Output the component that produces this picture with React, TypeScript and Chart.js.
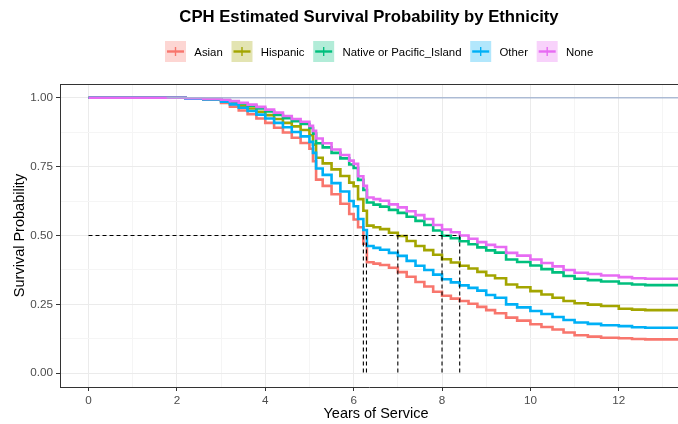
import React, { useEffect, useRef } from "react";
import { Chart, registerables } from "chart.js";

Chart.register(...registerables);

const titleText = "CPH Estimated Survival Probability by Ethnicity";
const xTitle = "Years of Service";
const yTitle = "Survival Probability";

const groups = ["Asian", "Hispanic", "Native or Pacific_Island", "Other", "None"];
const colors = ["#F8766D", "#A3A500", "#00BF7D", "#00B0F6", "#E76BF3"];

const times = [0, 1.8, 2.2, 2.6, 3.0, 3.2, 3.4, 3.6, 3.8, 4.0, 4.2, 4.4, 4.6, 4.8, 5.0, 5.08, 5.15, 5.3, 5.5, 5.7, 5.9, 6.0, 6.1, 6.22, 6.3, 6.45, 6.6, 6.8, 7.0, 7.2, 7.4, 7.6, 7.8, 8.0, 8.2, 8.4, 8.6, 8.8, 9.0, 9.2, 9.45, 9.7, 10.0, 10.25, 10.5, 10.75, 11.0, 11.3, 11.6, 12.0, 12.3, 12.6, 13.5];

const asian = [1, 1, .997, .993, .981, .968, .954, .94, .925, .909, .891, .874, .855, .836, .815, .77, .703, .68, .65, .615, .578, .558, .53, .47, .403, .398, .393, .383, .367, .35, .331, .315, .296, .281, .271, .262, .252, .241, .229, .218, .202, .191, .178, .168, .159, .148, .138, .133, .129, .127, .124, .123, .123];
const hispanic = [1, 1, .998, .995, .989, .981, .971, .961, .949, .937, .923, .909, .896, .883, .864, .83, .782, .762, .74, .716, .692, .679, .632, .59, .536, .53, .523, .51, .498, .48, .462, .447, .43, .414, .402, .39, .38, .368, .355, .345, .322, .312, .298, .286, .274, .262, .254, .249, .244, .234, .231, .229, .229];
const nativePI = [1, 1, .998, .995, .991, .986, .979, .971, .961, .95, .938, .926, .915, .905, .89, .87, .835, .82, .8, .78, .758, .745, .702, .665, .62, .612, .605, .593, .582, .568, .553, .538, .518, .499, .49, .479, .468, .457, .446, .438, .413, .404, .391, .378, .366, .353, .343, .338, .333, .326, .322, .32, .32];
const other = [1, 1, .997, .994, .986, .976, .964, .952, .939, .925, .909, .893, .876, .86, .84, .8, .743, .72, .69, .66, .625, .606, .56, .52, .462, .455, .448, .437, .426, .408, .39, .375, .358, .341, .33, .319, .31, .3, .284, .274, .25, .239, .226, .215, .204, .193, .184, .179, .174, .171, .167, .165, .165];
const none = [1, 1, .998, .996, .993, .988, .982, .975, .967, .957, .946, .934, .923, .913, .898, .88, .852, .835, .812, .792, .772, .76, .715, .68, .638, .632, .626, .613, .602, .588, .574, .56, .538, .522, .512, .5, .488, .476, .466, .458, .437, .427, .413, .4, .388, .375, .365, .36, .355, .349, .345, .343, .343];

const seriesValues = [asian, hispanic, nativePI, other, none];

const medians = [6.22, 6.29, 7.0, 8.0, 8.4];
const medianLevel = 0.5;

const refLineX = [1.77, 13.5];
const refLineY = 1;

const xTickValues = [0, 1, 2, 3, 4, 5, 6, 7, 8, 9, 10, 11, 12, 13];
const yTickValues = [0, 0.125, 0.25, 0.375, 0.5, 0.625, 0.75, 0.875, 1];

const FONT = "'Liberation Sans', Arial, Helvetica, sans-serif";

const isMajorX = (v: number) => Math.abs(v % 2) < 1e-9;
const isMajorY = (v: number) => Math.abs(v * 4 - Math.round(v * 4)) < 1e-9;

function hexAlpha(hex: string, a: number) {
  const r = parseInt(hex.slice(1, 3), 16);
  const g = parseInt(hex.slice(3, 5), 16);
  const b = parseInt(hex.slice(5, 7), 16);
  return `rgba(${r},${g},${b},${a})`;
}

const decorPlugin = {
  id: "decor",
  afterDraw(chart: any) {
    const { ctx, chartArea: a } = chart;
    ctx.save();
    // top panel border
    ctx.strokeStyle = "#333333";
    ctx.lineWidth = 1;
    ctx.beginPath();
    ctx.moveTo(a.left, a.top + 0.5);
    ctx.lineTo(a.right, a.top + 0.5);
    ctx.stroke();

    // title
    ctx.fillStyle = "#000";
    ctx.font = `bold 16.7px ${FONT}`;
    ctx.textAlign = "center";
    ctx.textBaseline = "alphabetic";
    ctx.fillText(titleText, 369, 22);

    // legend
    ctx.font = `11.4px ${FONT}`;
    ctx.textAlign = "left";
    let x = 165;
    const boxTop = 41;
    const box = 21;
    groups.forEach((g, i) => {
      ctx.fillStyle = hexAlpha(colors[i], 0.3);
      ctx.fillRect(x, boxTop, box, box);
      ctx.strokeStyle = colors[i];
      ctx.lineWidth = 2.4;
      ctx.beginPath();
      ctx.moveTo(x + 2, boxTop + box / 2);
      ctx.lineTo(x + box - 2, boxTop + box / 2);
      ctx.stroke();
      ctx.lineWidth = 1.4;
      ctx.beginPath();
      ctx.moveTo(x + box / 2, boxTop + box / 2 - 4.5);
      ctx.lineTo(x + box / 2, boxTop + box / 2 + 4.5);
      ctx.stroke();
      ctx.fillStyle = "#000";
      const tx = x + 29.3;
      ctx.fillText(g, tx, 56.3);
      x = tx + ctx.measureText(g).width + 8.7;
    });

    // axis titles
    ctx.font = `14.5px ${FONT}`;
    ctx.fillStyle = "#000";
    ctx.textAlign = "center";
    ctx.fillText(xTitle, 376, 418);
    ctx.save();
    ctx.translate(19.5, (a.top + a.bottom) / 2);
    ctx.rotate(-Math.PI / 2);
    ctx.textBaseline = "middle";
    ctx.fillText(yTitle, 0, 0);
    ctx.restore();

    ctx.restore();
  },
};

export default function App() {
  const ref = useRef<HTMLCanvasElement>(null);

  useEffect(() => {
    const datasets: any[] = [];

    // reference line at 1.0
    datasets.push({
      data: refLineX.map((x) => ({ x, y: refLineY })),
      borderColor: "rgba(165,182,210,0.9)",
      borderWidth: 1.5,
      pointRadius: 0,
      order: -1,
    });

    // median dashed lines
    datasets.push({
      data: [
        { x: 0, y: medianLevel },
        { x: Math.max(...medians), y: medianLevel },
      ],
      borderColor: "#000",
      borderWidth: 1.1,
      borderDash: [4, 3],
      pointRadius: 0,
      order: 0,
    });
    medians.forEach((m) => {
      datasets.push({
        data: [
          { x: m, y: medianLevel },
          { x: m, y: 0 },
        ],
        borderColor: "#000",
        borderWidth: 1.1,
        borderDash: [4, 3],
        pointRadius: 0,
        order: 0,
      });
    });

    groups.forEach((g, i) => {
      datasets.push({
        label: g,
        data: times.map((t, k) => ({ x: t, y: seriesValues[i][k] })),
        borderColor: colors[i],
        borderWidth: 2.6,
        pointRadius: 0,
        stepped: true,
        order: groups.length - i,
      });
    });

    const chart = new Chart(ref.current!, {
      type: "line",
      data: { datasets },
      options: {
        animation: false,
        responsive: false,
        events: [],
        layout: { padding: { top: 84, left: 0, right: 0, bottom: 0 } },
        plugins: {
          legend: { display: false },
          title: { display: false },
          tooltip: { enabled: false },
        },
        scales: {
          x: {
            type: "linear",
            min: -0.645,
            max: 13.34,
            afterBuildTicks: (scale: any) => {
              scale.ticks = xTickValues.map((v) => ({ value: v }));
            },
            afterFit: (scale: any) => {
              scale.height = 37;
            },
            grid: {
              color: (c: any) => (c.tick && isMajorX(c.tick.value) ? "#EBEBEB" : "#F5F5F5"),
              tickColor: (c: any) => (c.tick && isMajorX(c.tick.value) ? "#333333" : "rgba(0,0,0,0)"),
              tickLength: 4,
              lineWidth: 1,
            },
            border: { display: true, color: "#333333", width: 1 },
            ticks: {
              autoSkip: false,
              maxRotation: 0,
              padding: 3,
              color: "#4D4D4D",
              font: { family: FONT, size: 11.7 },
              callback: (v: any) => (isMajorX(Number(v)) ? String(v) : ""),
            },
          },
          y: {
            type: "linear",
            min: -0.05,
            max: 1.05,
            afterBuildTicks: (scale: any) => {
              scale.ticks = yTickValues.map((v) => ({ value: v }));
            },
            afterFit: (scale: any) => {
              scale.width = 60;
            },
            grid: {
              color: (c: any) => (c.tick && isMajorY(c.tick.value) ? "#EBEBEB" : "#F5F5F5"),
              tickColor: (c: any) => (c.tick && isMajorY(c.tick.value) ? "#333333" : "rgba(0,0,0,0)"),
              tickLength: 4,
              lineWidth: 1,
            },
            border: { display: true, color: "#333333", width: 1 },
            ticks: {
              autoSkip: false,
              padding: 3,
              color: "#4D4D4D",
              font: { family: FONT, size: 11.7 },
              callback: (v: any) => (isMajorY(Number(v)) ? Number(v).toFixed(2) : ""),
            },
          },
        },
      },
      plugins: [decorPlugin],
    } as any);

    return () => chart.destroy();
  }, []);

  return (
    <div style={{ position: "absolute", left: 0, top: 0, width: 678, height: 424, background: "#fff" }}>
      <canvas ref={ref} width={678} height={424} style={{ display: "block", width: 678, height: 424 }} />
    </div>
  );
}
